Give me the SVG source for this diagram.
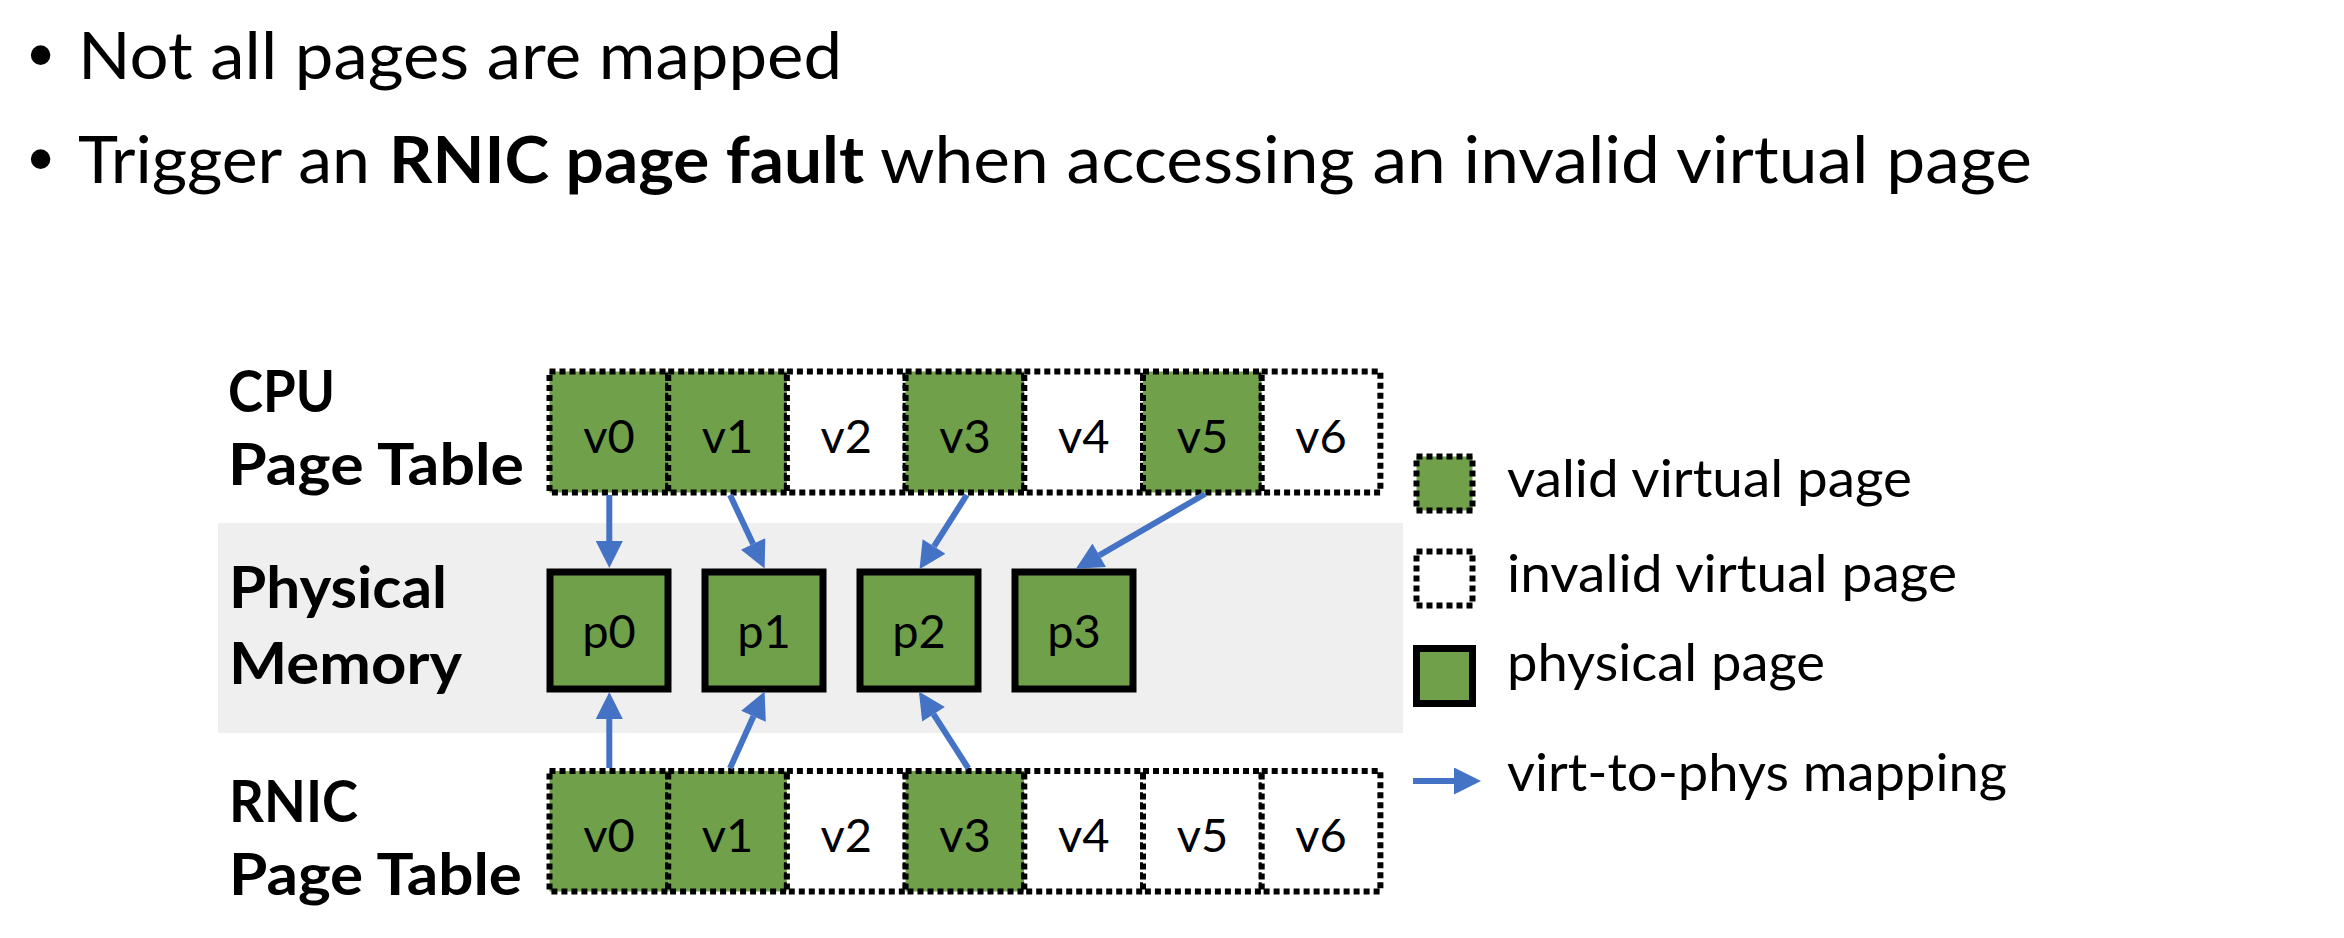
<svg xmlns="http://www.w3.org/2000/svg" width="2344" height="938" viewBox="0 0 2344 938">
<defs>
<style>
.t{font-family:Lato,"Open Sans","Liberation Sans",sans-serif;fill:#000}
.body{font-size:65px}
.b{font-weight:bold}
.lab{font-size:58px;font-weight:bold}
.cell{font-size:47px;text-anchor:middle}
.leg{font-size:52px}
.bul{font-family:"Liberation Sans",Arial,sans-serif;font-size:72px}
.valid{fill:#70A14A;stroke:#000;stroke-width:6;stroke-dasharray:6 4}
.invalid{fill:#FFFFFF;stroke:#000;stroke-width:6;stroke-dasharray:6 4}
.phys{fill:#70A14A;stroke:#000;stroke-width:7}
.arr{stroke:#4472C4;stroke-width:6;fill:none;marker-end:url(#ah)}
</style>
<marker id="ah" viewBox="0 0 10 10" refX="0" refY="5" markerWidth="4.7" markerHeight="4.5" orient="auto" markerUnits="strokeWidth">
<path d="M0,0 L10,5 L0,10 z" fill="#4472C4"/>
</marker>
</defs>
<rect width="2344" height="938" fill="#fff"/>

<g id="bullets">
<text class="bul" x="28" y="79">•</text>
<text class="t body" x="78" y="79" textLength="764" lengthAdjust="spacingAndGlyphs">Not all pages are mapped</text>
<text class="bul" x="28" y="183">•</text>
<text class="t body" x="78" y="183" textLength="292" lengthAdjust="spacingAndGlyphs">Trigger an</text>
<text class="t body b" x="389" y="183" textLength="475" lengthAdjust="spacingAndGlyphs">RNIC page fault</text>
<text class="t body" x="880" y="183" textLength="1152" lengthAdjust="spacingAndGlyphs">when accessing an invalid virtual page</text>
</g>

<g id="memory-band">
<rect x="218" y="523" width="1185" height="210" fill="#EFEFEF"/>
</g>

<g id="labels">
<text class="t lab" x="228" y="412" textLength="107" lengthAdjust="spacingAndGlyphs">CPU</text>
<text class="t lab" x="228" y="485" textLength="296" lengthAdjust="spacingAndGlyphs">Page Table</text>
<text class="t lab" x="229" y="608" textLength="218" lengthAdjust="spacingAndGlyphs">Physical</text>
<text class="t lab" x="229" y="684" textLength="233" lengthAdjust="spacingAndGlyphs">Memory</text>
<text class="t lab" x="229" y="822" textLength="129" lengthAdjust="spacingAndGlyphs">RNIC</text>
<text class="t lab" x="229" y="895" textLength="293" lengthAdjust="spacingAndGlyphs">Page Table</text>
</g>

<g id="cpu-page-table">
<g id="cpu-v0"><rect class="valid" x="549.5" y="371.5" width="118.7" height="121"/><text class="t cell" x="608.9" y="453">v0</text></g>
<g id="cpu-v1"><rect class="valid" x="668.2" y="371.5" width="118.7" height="121"/><text class="t cell" x="727.6" y="453">v1</text></g>
<g id="cpu-v2"><rect class="invalid" x="786.9" y="371.5" width="118.7" height="121"/><text class="t cell" x="846.3" y="453">v2</text></g>
<g id="cpu-v3"><rect class="valid" x="905.6" y="371.5" width="118.7" height="121"/><text class="t cell" x="965" y="453">v3</text></g>
<g id="cpu-v4"><rect class="invalid" x="1024.3" y="371.5" width="118.7" height="121"/><text class="t cell" x="1083.7" y="453">v4</text></g>
<g id="cpu-v5"><rect class="valid" x="1143" y="371.5" width="118.7" height="121"/><text class="t cell" x="1202.4" y="453">v5</text></g>
<g id="cpu-v6"><rect class="invalid" x="1261.7" y="371.5" width="118.7" height="121"/><text class="t cell" x="1321.1" y="453">v6</text></g>
</g>

<g id="physical-memory">
<g id="p0"><rect class="phys" x="550" y="572" width="118" height="117"/><text class="t cell" x="609" y="648">p0</text></g>
<g id="p1"><rect class="phys" x="705" y="572" width="118" height="117"/><text class="t cell" x="764" y="648">p1</text></g>
<g id="p2"><rect class="phys" x="860" y="572" width="118" height="117"/><text class="t cell" x="919" y="648">p2</text></g>
<g id="p3"><rect class="phys" x="1015" y="572" width="118" height="117"/><text class="t cell" x="1074" y="648">p3</text></g>
</g>

<g id="rnic-page-table">
<g id="rnic-v0"><rect class="valid" x="549.5" y="771" width="118.7" height="120.5"/><text class="t cell" x="608.9" y="852">v0</text></g>
<g id="rnic-v1"><rect class="valid" x="668.2" y="771" width="118.7" height="120.5"/><text class="t cell" x="727.6" y="852">v1</text></g>
<g id="rnic-v2"><rect class="invalid" x="786.9" y="771" width="118.7" height="120.5"/><text class="t cell" x="846.3" y="852">v2</text></g>
<g id="rnic-v3"><rect class="valid" x="905.6" y="771" width="118.7" height="120.5"/><text class="t cell" x="965" y="852">v3</text></g>
<g id="rnic-v4"><rect class="invalid" x="1024.3" y="771" width="118.7" height="120.5"/><text class="t cell" x="1083.7" y="852">v4</text></g>
<g id="rnic-v5"><rect class="invalid" x="1143" y="771" width="118.7" height="120.5"/><text class="t cell" x="1202.4" y="852">v5</text></g>
<g id="rnic-v6"><rect class="invalid" x="1261.7" y="771" width="118.7" height="120.5"/><text class="t cell" x="1321.1" y="852">v6</text></g>
</g>

<g id="connectors">
<line class="arr" x1="609.3" y1="495" x2="609.3" y2="541"/>
<line class="arr" x1="730" y1="495" x2="753.1" y2="544"/>
<line class="arr" x1="966.7" y1="495" x2="934" y2="546.4"/>
<line class="arr" x1="1205" y1="494" x2="1099.2" y2="555.3"/>
<line class="arr" x1="609.3" y1="768" x2="609.3" y2="719"/>
<line class="arr" x1="730" y1="768.3" x2="753.5" y2="716.2"/>
<line class="arr" x1="968.3" y1="768.3" x2="933.5" y2="714.2"/>
</g>

<g id="legend">
<g id="legend-valid"><rect class="valid" x="1416.5" y="456.5" width="56" height="54"/><text class="t leg" x="1507" y="497" textLength="405" lengthAdjust="spacingAndGlyphs">valid virtual page</text></g>
<g id="legend-invalid"><rect class="invalid" x="1416.5" y="551.5" width="56" height="54"/><text class="t leg" x="1507" y="592" textLength="450" lengthAdjust="spacingAndGlyphs">invalid virtual page</text></g>
<g id="legend-physical"><rect class="phys" x="1416.5" y="648.5" width="56" height="55"/><text class="t leg" x="1507" y="681" textLength="318" lengthAdjust="spacingAndGlyphs">physical page</text></g>
<g id="legend-mapping"><line class="arr" x1="1413" y1="781" x2="1454" y2="781"/><text class="t leg" x="1507" y="791" textLength="500" lengthAdjust="spacingAndGlyphs">virt-to-phys mapping</text></g>
</g>
</svg>
